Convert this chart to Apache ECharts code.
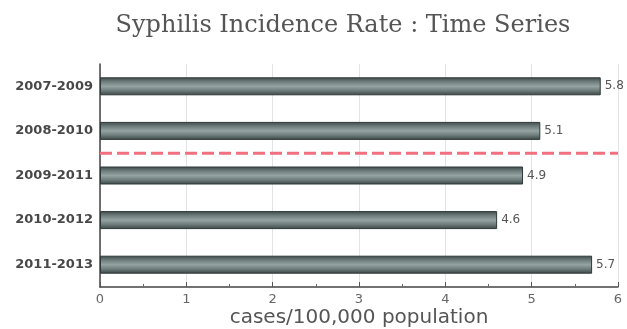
<!DOCTYPE html>
<html>
<head>
<meta charset="utf-8">
<script src="https://cdn.jsdelivr.net/npm/echarts@6/dist/echarts.min.js"></script>
<style>
  html, body { margin: 0; padding: 0; background: #fff; }
  #chart { width: 627px; height: 329px; }
</style>
</head>
<body>
<div id="chart"></div>
<script>
// Three-year rolling periods and their incidence rates
const periods = ['2007-2009', '2008-2010', '2009-2011', '2010-2012', '2011-2013'];
const rates = [5.8, 5.1, 4.9, 4.6, 5.7];
const xTicks = [0, 1, 2, 3, 4, 5, 6];
// Reference marker drawn between the 2nd and 3rd periods (band boundary index)
const markerBoundary = 2;

const chart = echarts.init(document.getElementById('chart'));

const barFill = new echarts.graphic.LinearGradient(0, 0, 0, 1, [
  { offset: 0, color: '#3f4a4a' },
  { offset: 0.25, color: '#6f7d7d' },
  { offset: 0.5, color: '#95a3a3' },
  { offset: 0.75, color: '#6c7a7a' },
  { offset: 1, color: '#3a4444' }
]);

chart.setOption({
  animation: false,
  backgroundColor: '#ffffff',
  title: {
    text: 'Syphilis Incidence Rate : Time Series',
    left: 338,
    textAlign: 'center',
    top: 9,
    textStyle: {
      fontFamily: 'DejaVu Serif',
      fontWeight: 'normal',
      fontSize: 24,
      color: '#555555'
    }
  },
  grid: { left: 100, right: 9, top: 64, bottom: 42, containLabel: false, outerBoundsMode: 'none' },
  xAxis: {
    type: 'value',
    min: xTicks[0],
    max: xTicks[xTicks.length - 1],
    interval: 1,
    name: 'cases/100,000 population',
    nameLocation: 'middle',
    nameGap: 21,
    nameMoveOverlap: false,
    nameTextStyle: {
      fontFamily: 'DejaVu Sans',
      fontSize: 20,
      color: '#555555'
    },
    axisLine: { show: true, onZero: false, lineStyle: { color: '#444', width: 1.5 } },
    axisTick: { show: true, inside: true, length: 5, lineStyle: { color: '#555' } },
    minorTick: { show: true, splitNumber: 2, length: 3, lineStyle: { color: '#666' } },
    axisLabel: {
      fontFamily: 'DejaVu Sans',
      fontSize: 13,
      color: '#666666',
      margin: 6
    },
    splitLine: { show: true, lineStyle: { color: '#e2e4e4', width: 1 } }
  },
  yAxis: [
    {
      type: 'category',
      data: periods,
      inverse: true,
      axisLine: { show: true, lineStyle: { color: '#444', width: 1.5 } },
      axisTick: { show: false },
      axisLabel: {
        fontFamily: 'DejaVu Sans',
        fontWeight: 'bold',
        fontSize: 13,
        color: '#484848',
        margin: 7
      }
    },
    {
      // hidden helper scale spanning the category bands
      type: 'value',
      min: 0,
      max: periods.length,
      inverse: true,
      show: false
    }
  ],
  series: [
    {
      type: 'bar',
      data: rates,
      barWidth: 18,
      itemStyle: {
        color: barFill,
        borderColor: '#2f3838',
        borderWidth: 1
      },
      label: {
        show: true,
        position: 'right',
        distance: 4,
        fontFamily: 'DejaVu Sans',
        fontSize: 12,
        color: '#555555',
        formatter: p => p.value.toFixed(1)
      }
    },
    {
      type: 'line',
      yAxisIndex: 1,
      data: [[xTicks[0], markerBoundary], [xTicks[xTicks.length - 1], markerBoundary]],
      symbol: 'none',
      silent: true,
      lineStyle: { color: '#f07080', width: 3, type: [12, 5] }
    }
  ]
});
</script>
</body>
</html>
